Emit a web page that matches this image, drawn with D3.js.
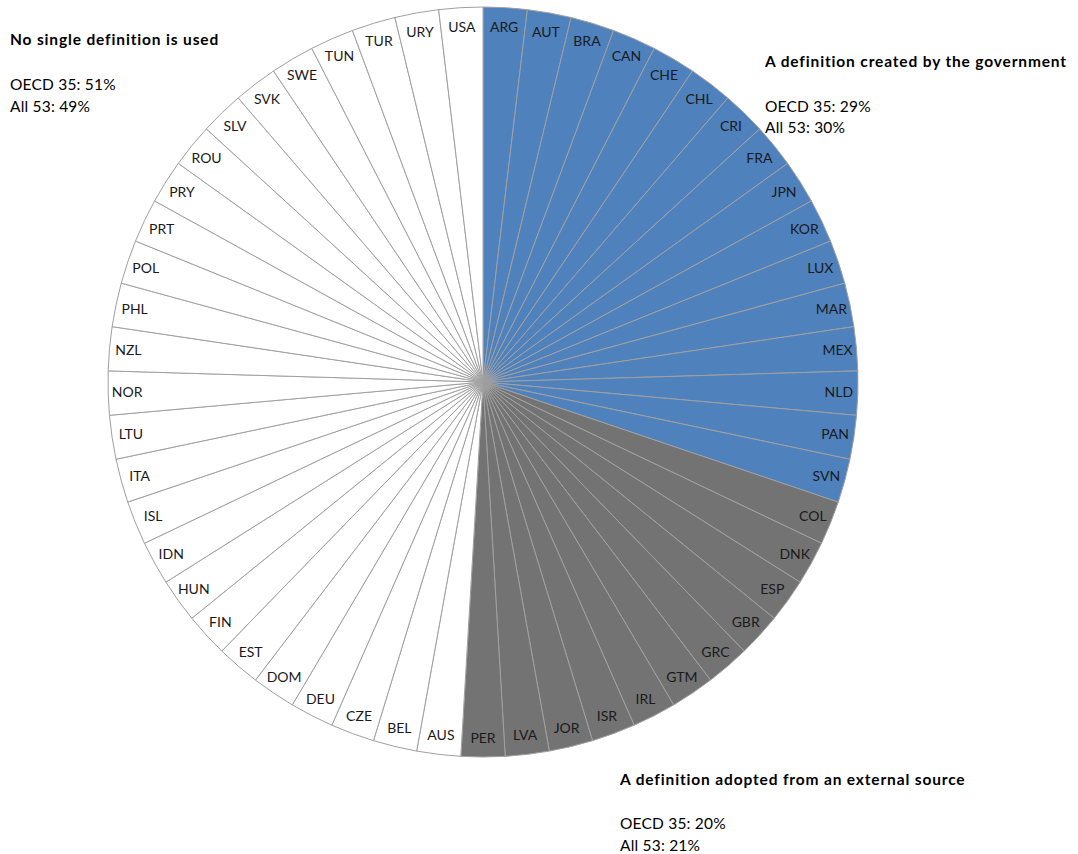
<!DOCTYPE html>
<html><head><meta charset="utf-8">
<script src="https://cdn.jsdelivr.net/npm/d3@7"></script>
<style>
html,body{margin:0;padding:0;background:#fff;}
svg{display:block;}
</style></head>
<body>
<svg id="chart" width="1078" height="854"></svg>
<script>
const governmentCountries = ["ARG","AUT","BRA","CAN","CHE","CHL","CRI","FRA","JPN","KOR","LUX","MAR","MEX","NLD","PAN","SVN"];
const externalCountries = ["COL","DNK","ESP","GBR","GRC","GTM","IRL","ISR","JOR","LVA","PER"];
const noneCountries = ["AUS","BEL","CZE","DEU","DOM","EST","FIN","HUN","IDN","ISL","ITA","LTU","NOR","NZL","PHL","POL","PRT","PRY","ROU","SLV","SVK","SWE","TUN","TUR","URY","USA"];
const groupNames = ["government","external","none"];
const groupColors = ["#4f81bd","#737373","#ffffff"];
const legendTitles = ["A definition created by the government","A definition adopted from an external source","No single definition is used"];
const oecdShares = ["OECD 35: 29%","OECD 35: 20%","OECD 35: 51%"];
const allShares = ["All 53: 30%","All 53: 21%","All 53: 49%"];

const slices = [
  ...governmentCountries.map(c => ({name:c, group:"government", value:1})),
  ...externalCountries.map(c => ({name:c, group:"external", value:1})),
  ...noneCountries.map(c => ({name:c, group:"none", value:1}))
];

const svg = d3.select("#chart");
const cx = 483, cy = 382, R = 375;
const color = d3.scaleOrdinal().domain(groupNames).range(groupColors);
const pie = d3.pie().value(d => d.value).sort(null);
const arc = d3.arc().innerRadius(0).outerRadius(R);
const labelArc = d3.arc().innerRadius(356).outerRadius(356);

const g = svg.append("g").attr("transform", `translate(${cx},${cy})`);
const arcs = pie(slices);
g.selectAll("path").data(arcs).join("path")
  .attr("d", arc)
  .attr("fill", d => color(d.data.group))
  .attr("stroke", "#a0a0a0")
  .attr("stroke-width", 1);

g.selectAll("text").data(arcs).join("text")
  .attr("transform", d => `translate(${labelArc.centroid(d)})`)
  .attr("text-anchor", "middle")
  .attr("dy", "0.35em")
  .attr("font-family", "Lato, 'Open Sans', sans-serif")
  .attr("font-size", 14)
  .attr("fill", "#1a1a1a")
  .text(d => d.data.name);

const legendPos = [
  {x:765, y:[67,112,133]},
  {x:620, y:[785,829,851]},
  {x:10, y:[45,90,112]}
];
groupNames.forEach((gname, i) => {
  const p = legendPos[i];
  const lg = svg.append("g").attr("font-family", "Lato, 'Open Sans', sans-serif").attr("font-size", 15.5).attr("fill", "#000");
  lg.append("text").attr("x", p.x).attr("y", p.y[0]).attr("font-weight", "bold").attr("letter-spacing", "0.85px").text(legendTitles[i]);
  lg.append("text").attr("x", p.x).attr("y", p.y[1]).attr("letter-spacing", "0.2px").text(oecdShares[i]);
  lg.append("text").attr("x", p.x).attr("y", p.y[2]).attr("letter-spacing", "0.2px").text(allShares[i]);
});
</script>
</body></html>
